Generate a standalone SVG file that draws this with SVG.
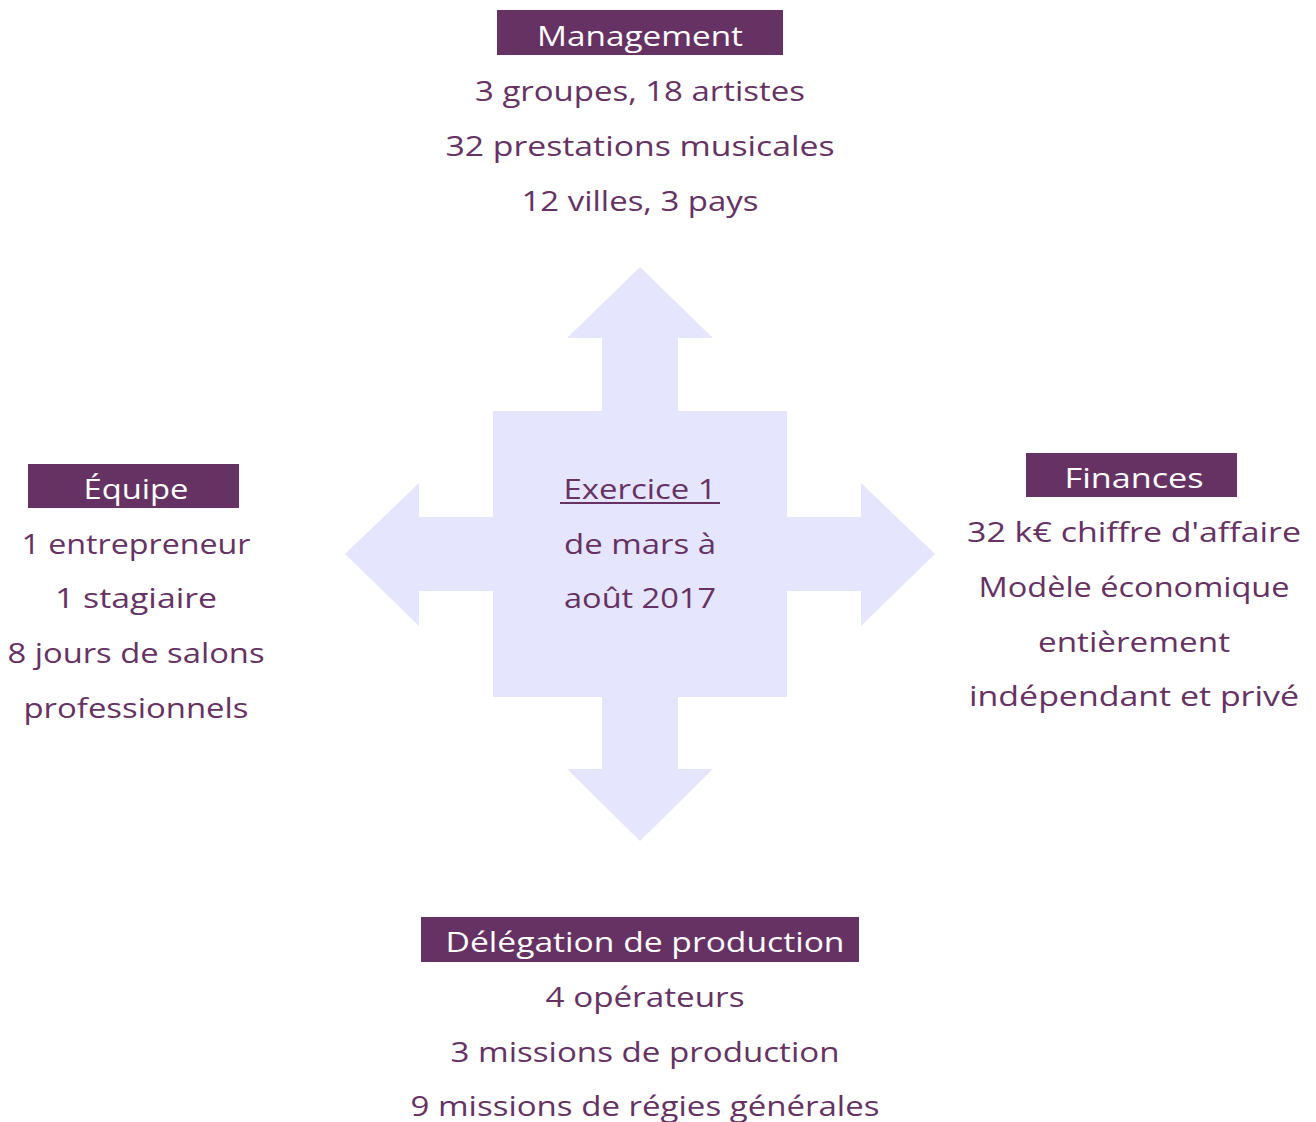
<svg xmlns="http://www.w3.org/2000/svg" width="1316" height="1122" viewBox="0 0 1316 1122">
<style>
.hdr{fill:#653263}
.ht{font-family:"Open Sans","Liberation Sans",sans-serif;font-size:28px;fill:#ffffff;text-anchor:middle}
.t{font-family:"Open Sans","Liberation Sans",sans-serif;font-size:28px;fill:#653263;text-anchor:middle}
.shape{fill:#E5E5FD}
</style>
<rect width="1316" height="1122" fill="#ffffff"/>
<g id="connectors">
<path class="shape" d="M493,411 H602 V338 H567 L640,267 L713,338 H678 V411 H787 V517 H861 V483 L935,554 L861,626 V591 H787 V697 H678 V769 H713 L640,841 L567,769 H602 V697 H493 V591 H419 V626 L345,554 L419,483 V517 H493 Z"/>
</g>
<g id="center">
<text class="t" x="640" y="499" textLength="153" lengthAdjust="spacingAndGlyphs">Exercice 1</text>
<line x1="560" y1="503" x2="720" y2="503" stroke="#653263" stroke-width="2"/>
<text class="t" x="640" y="554" textLength="152" lengthAdjust="spacingAndGlyphs">de mars à</text>
<text class="t" x="640" y="608" textLength="152" lengthAdjust="spacingAndGlyphs">août 2017</text>
</g>
<g id="management">
<rect class="hdr" x="497" y="10" width="286" height="45"/>
<text class="ht" x="640" y="46" textLength="206" lengthAdjust="spacingAndGlyphs">Management</text>
<text class="t" x="640" y="101" textLength="330" lengthAdjust="spacingAndGlyphs">3 groupes, 18 artistes</text>
<text class="t" x="640" y="156" textLength="389" lengthAdjust="spacingAndGlyphs">32 prestations musicales</text>
<text class="t" x="640" y="211" textLength="237" lengthAdjust="spacingAndGlyphs">12 villes, 3 pays</text>
</g>
<g id="equipe">
<rect class="hdr" x="28" y="464" width="211" height="44"/>
<text class="ht" x="136" y="499" textLength="105" lengthAdjust="spacingAndGlyphs">Équipe</text>
<text class="t" x="136" y="554" textLength="229" lengthAdjust="spacingAndGlyphs">1 entrepreneur</text>
<text class="t" x="136" y="608" textLength="162" lengthAdjust="spacingAndGlyphs">1 stagiaire</text>
<text class="t" x="136" y="663" textLength="257" lengthAdjust="spacingAndGlyphs">8 jours de salons</text>
<text class="t" x="136" y="718" textLength="225" lengthAdjust="spacingAndGlyphs">professionnels</text>
</g>
<g id="finances">
<rect class="hdr" x="1026" y="453" width="211" height="44"/>
<text class="ht" x="1134" y="488" textLength="139" lengthAdjust="spacingAndGlyphs">Finances</text>
<text class="t" x="1134" y="542" textLength="334" lengthAdjust="spacingAndGlyphs">32 k€ chiffre d'affaire</text>
<text class="t" x="1134" y="597" textLength="311" lengthAdjust="spacingAndGlyphs">Modèle économique</text>
<text class="t" x="1134" y="652" textLength="192" lengthAdjust="spacingAndGlyphs">entièrement</text>
<text class="t" x="1134" y="706" textLength="330" lengthAdjust="spacingAndGlyphs">indépendant et privé</text>
</g>
<g id="delegation">
<rect class="hdr" x="421" y="917" width="438" height="45"/>
<text class="ht" x="645" y="952" textLength="399" lengthAdjust="spacingAndGlyphs">Délégation de production</text>
<text class="t" x="645" y="1007" textLength="199" lengthAdjust="spacingAndGlyphs">4 opérateurs</text>
<text class="t" x="645" y="1062" textLength="389" lengthAdjust="spacingAndGlyphs">3 missions de production</text>
<text class="t" x="645" y="1116" textLength="469" lengthAdjust="spacingAndGlyphs">9 missions de régies générales</text>
</g>
</svg>
